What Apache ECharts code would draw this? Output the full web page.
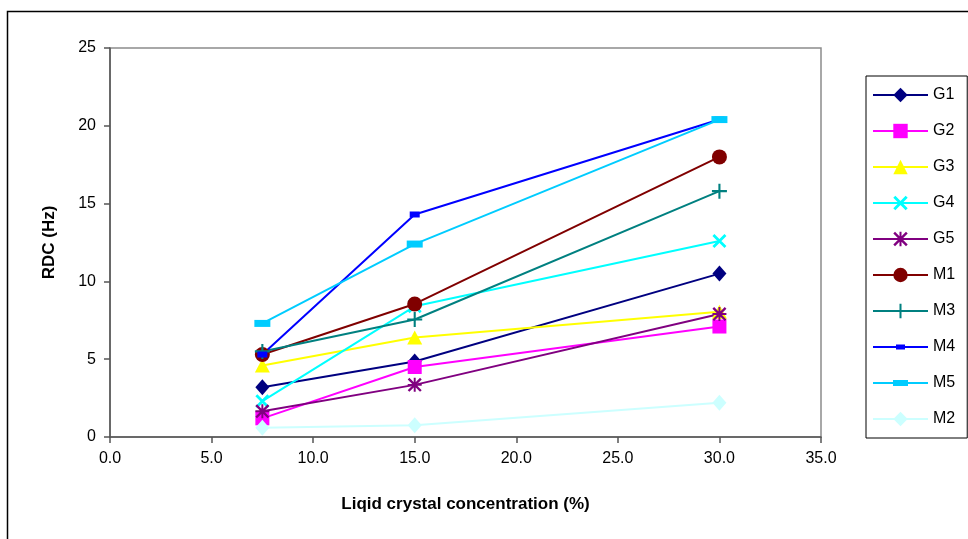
<!DOCTYPE html>
<html>
<head>
<meta charset="utf-8">
<script src="https://cdn.jsdelivr.net/npm/echarts@6/dist/echarts.min.js"></script>
<style>
  html, body { margin: 0; padding: 0; background: #fff; }
  #chart { width: 968px; height: 539px; }
</style>
</head>
<body>
<div id="chart"></div>
<script>
// concentrations (%)
var conc = [7.5, 15, 30];
var names = ['G1', 'G2', 'G3', 'G4', 'G5', 'M1', 'M3', 'M4', 'M5', 'M2'];
// RDC values (Hz) per series
var G1 = [3.2, 4.85, 10.5];
var G2 = [1.2, 4.5, 7.1];
var G3 = [4.6, 6.4, 8.05];
var G4 = [2.3, 8.4, 12.6];
var G5 = [1.65, 3.35, 7.9];
var M1 = [5.3, 8.55, 18.0];
var M3 = [5.5, 7.55, 15.8];
var M4 = [5.3, 14.3, 20.4];
var M5 = [7.3, 12.4, 20.4];
var M2 = [0.6, 0.75, 2.2];

var colors = {
    G1: '#000080', G2: '#ff00ff', G3: '#ffff00', G4: '#00ffff', G5: '#800080',
    M1: '#800000', M3: '#008080', M4: '#0000ff', M5: '#00ccff', M2: '#ccffff'
};
var crossPath = 'path://M0,1.4L1.4,0L10,8.6L8.6,10Z M8.6,0L10,1.4L1.4,10L0,8.6Z';
var plusPath = 'path://M4.3,0h1.4v10h-1.4z M0,4.3h10v1.4h-10z';
var starPath = 'path://M4.3,0h1.4v10h-1.4z M0,4.3h10v1.4h-10z M0,1.2L1.2,0L10,8.8L8.8,10Z M8.8,0L10,1.2L1.2,10L0,8.8Z';
var symbols = {
    G1: ['diamond', [14, 16]], G2: ['rect', [14, 14]], G3: ['triangle', [15, 14]],
    G4: [crossPath, [14, 14]], G5: [starPath, [14, 14]], M1: ['circle', 15],
    M3: [plusPath, [15, 15]], M4: ['rect', [10, 6]], M5: ['rect', [16, 7]],
    M2: ['diamond', [14, 16]]
};
// legend icons for the dash-like markers (line + small rect)
var legendIcons = {
    M4: 'path://M0,8h55v2h-55z M23,6.5h9v5h-9z',
    M5: 'path://M0,8h55v2h-55z M20,6h15v6h-15z'
};
var values = { G1: G1, G2: G2, G3: G3, G4: G4, G5: G5, M1: M1, M3: M3, M4: M4, M5: M5, M2: M2 };

var series = [];
names.forEach(function (n) {
    var pts = [];
    conc.forEach(function (c, i) { pts.push([c, values[n][i]]); });
    series.push({
        name: n,
        type: 'line',
        data: pts,
        symbol: symbols[n][0],
        symbolSize: symbols[n][1],
        showAllSymbol: true,
        itemStyle: { color: colors[n], opacity: 1 },
        lineStyle: { color: colors[n], width: 2 },
        emphasis: { disabled: true },
        animation: false
    });
});

var legendData = names.map(function (n) {
    return legendIcons[n] ? { name: n, icon: legendIcons[n] } : { name: n };
});

var myChart = echarts.init(document.getElementById('chart'));
myChart.setOption({
    animation: false,
    textStyle: { fontFamily: 'Liberation Sans, Arial, sans-serif' },
    graphic: [{
        type: 'rect',
        left: 5, top: 9,
        shape: { width: 1000, height: 600 },
        style: { fill: 'none', stroke: '#000', lineWidth: 1.5 },
        z: -1
    }],
    grid: {
        left: 110, top: 48, right: 147, bottom: 102,
        show: true, borderColor: '#8c8c8c', borderWidth: 1.5, backgroundColor: 'transparent'
    },
    legend: {
        orient: 'vertical',
        left: 866, top: 76,
        padding: [11, 12, 11, 6],
        itemWidth: 55, itemHeight: 18, itemGap: 20,
        borderColor: '#000', borderWidth: 1,
        backgroundColor: '#fff',
        textStyle: { fontSize: 16, color: '#000', fontFamily: 'Liberation Sans, Arial, sans-serif' },
        data: legendData
    },
    xAxis: {
        type: 'value',
        min: 0, max: 35, interval: 5,
        name: 'Liqid crystal concentration (%)',
        nameLocation: 'middle',
        nameGap: 59,
        nameTextStyle: { fontSize: 17, fontWeight: 'bold', color: '#000' },
        axisLine: { show: true, lineStyle: { color: '#555', width: 1.5 } },
        axisTick: { show: true, inside: false, length: 6, lineStyle: { color: '#555', width: 1.5 } },
        axisLabel: { fontSize: 16, color: '#000', margin: 14, formatter: function (v) { return v.toFixed(1); } },
        splitLine: { show: false }
    },
    yAxis: {
        type: 'value',
        min: 0, max: 25, interval: 5,
        name: 'RDC (Hz)',
        nameLocation: 'middle',
        nameGap: 52,
        nameTextStyle: { fontSize: 17, fontWeight: 'bold', color: '#000' },
        axisLine: { show: true, lineStyle: { color: '#555', width: 1.5 } },
        axisTick: { show: true, inside: false, length: 6, lineStyle: { color: '#555', width: 1.5 } },
        axisLabel: { fontSize: 16, color: '#000', margin: 14 },
        splitLine: { show: false }
    },
    series: series
});
</script>
</body>
</html>
